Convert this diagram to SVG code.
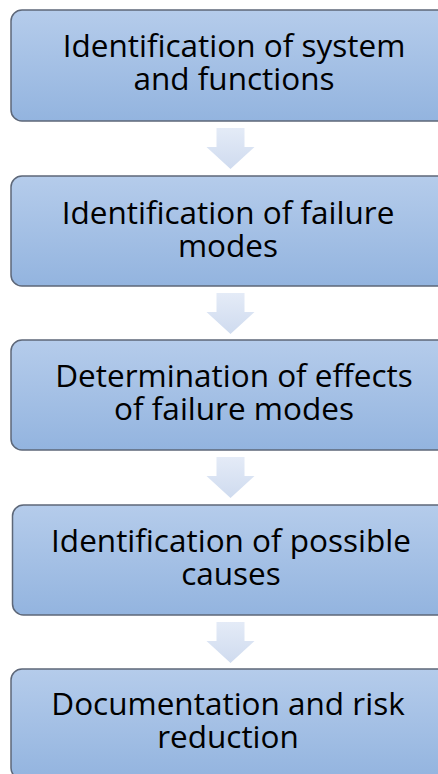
<svg xmlns="http://www.w3.org/2000/svg" width="438" height="774" viewBox="0 0 438 774">
  <defs>
    <linearGradient id="boxFill" x1="0" y1="0" x2="0" y2="1">
      <stop offset="0" stop-color="#b5cceb"/>
      <stop offset="1" stop-color="#93b4df"/>
    </linearGradient>
    <linearGradient id="arrowFill" x1="0" y1="0" x2="0" y2="1">
      <stop offset="0" stop-color="#e4ebf7"/>
      <stop offset="1" stop-color="#cfdbef"/>
    </linearGradient>
    <!-- block arrow pointing down, origin at the top centre of the shaft -->
    <path id="downArrow" d="M-14,0 H14 V19 H24 L0,41 L-24,19 H-14 Z"/>
  </defs>
  <style>
    .box { fill: url(#boxFill); stroke: #5d6778; stroke-width: 1.5; }
    .label { font-family: "Open Sans", "Liberation Sans", sans-serif; font-size: 31.5px; fill: #000; text-anchor: middle; }
    .arrow { fill: url(#arrowFill); }
  </style>

  <rect width="438" height="774" fill="#ffffff"/>

  <g id="connectors">
    <use href="#downArrow" class="arrow" x="230.5" y="128"/>
    <use href="#downArrow" class="arrow" x="230.5" y="293"/>
    <use href="#downArrow" class="arrow" x="230.5" y="457"/>
    <use href="#downArrow" class="arrow" x="230.5" y="622"/>
  </g>

  <g id="step1">
    <rect class="box" x="11" y="10" width="446" height="111" rx="11"/>
    <text class="label"><tspan x="234" y="57">Identification of system</tspan><tspan x="234" y="90">and functions</tspan></text>
  </g>

  <g id="step2">
    <rect class="box" x="11" y="176" width="446" height="110" rx="11"/>
    <text class="label"><tspan x="228" y="224">Identification of failure</tspan><tspan x="228" y="257">modes</tspan></text>
  </g>

  <g id="step3">
    <rect class="box" x="11" y="340" width="446" height="110" rx="11"/>
    <text class="label"><tspan x="234" y="387">Determination of effects</tspan><tspan x="234" y="420">of failure modes</tspan></text>
  </g>

  <g id="step4">
    <rect class="box" x="12.5" y="505" width="446" height="110" rx="11"/>
    <text class="label"><tspan x="231" y="552">Identification of possible</tspan><tspan x="231" y="585">causes</tspan></text>
  </g>

  <g id="step5">
    <rect class="box" x="11" y="669" width="446" height="110" rx="11"/>
    <text class="label"><tspan x="228" y="715">Documentation and risk</tspan><tspan x="228" y="748">reduction</tspan></text>
  </g>
</svg>
